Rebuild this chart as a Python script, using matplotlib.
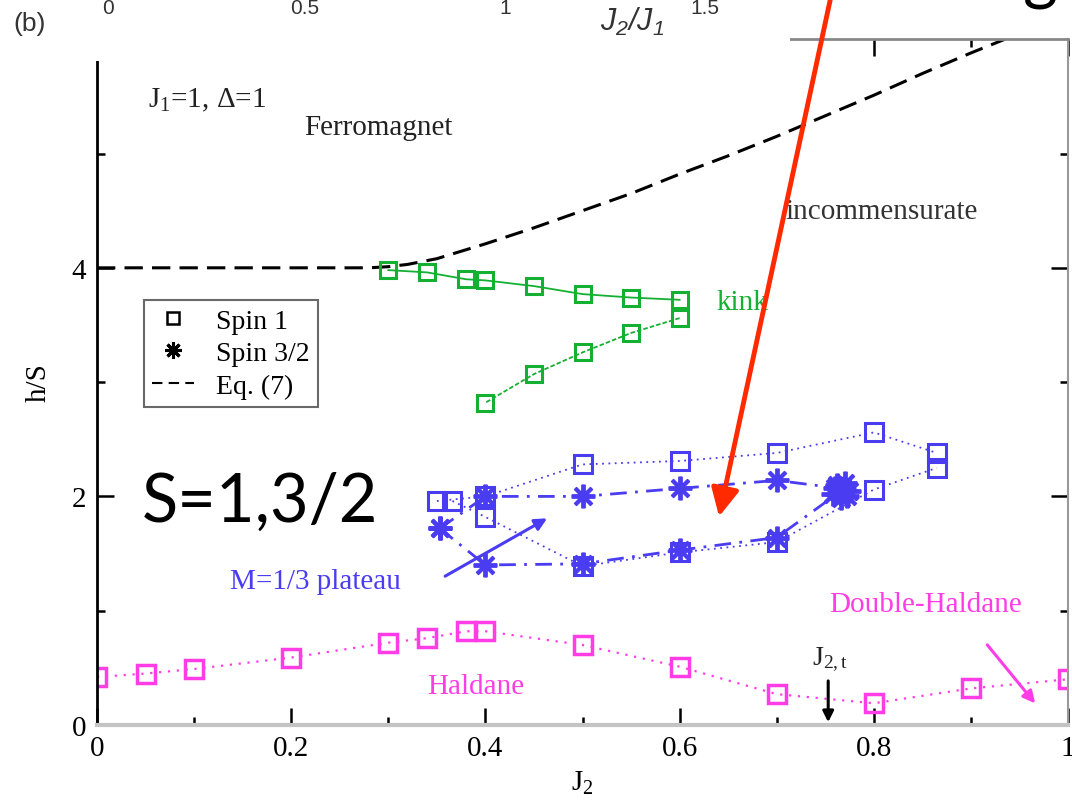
import matplotlib
matplotlib.use('Agg')
import matplotlib.pyplot as plt
from matplotlib.lines import Line2D
from matplotlib.patches import Rectangle

# Fonts: serif text like the original figure
plt.rcParams['font.family'] = ['Liberation Serif', 'DejaVu Serif']
plt.rcParams['mathtext.fontset'] = 'custom'
plt.rcParams['mathtext.rm'] = 'Liberation Serif'
plt.rcParams['mathtext.it'] = 'Liberation Serif:italic'
plt.rcParams['mathtext.sf'] = 'Liberation Sans:italic'

# Eq. (7) boundary of the ferromagnet
eqX = [0.0, 0.26, 0.28, 0.3, 0.32, 0.35, 0.4, 0.45, 0.5, 0.55, 0.6, 0.65, 0.7, 0.75, 0.8, 0.85, 0.9, 0.935]
eqY = [4.0, 4.0, 4.0, 4.01, 4.03, 4.08, 4.21, 4.35, 4.5, 4.65, 4.82, 4.98, 5.15, 5.33, 5.51, 5.7, 5.88, 6.0]

# kink (green, spin 1)
kinkUpX = [0.3, 0.34, 0.38, 0.4, 0.45, 0.5, 0.55, 0.6]
kinkUpY = [3.98, 3.96, 3.90, 3.89, 3.84, 3.77, 3.74, 3.72]
kinkLowX = [0.6, 0.55, 0.5, 0.45, 0.4]
kinkLowY = [3.56, 3.43, 3.26, 3.07, 2.82]

# M=1/3 plateau, spin 1 (blue squares)
plat1UpX = [0.35, 0.4, 0.5, 0.6, 0.7, 0.8, 0.865]
plat1UpY = [1.96, 2.0, 2.28, 2.31, 2.38, 2.56, 2.38]
plat1LowX = [0.366, 0.4, 0.5, 0.6, 0.7, 0.8, 0.865]
plat1LowY = [1.96, 1.82, 1.39, 1.51, 1.60, 2.06, 2.25]

# M=1/3 plateau, spin 3/2 (blue stars)
plat32UpX = [0.353, 0.4, 0.5, 0.6, 0.7, 0.765]
plat32UpY = [1.72, 2.0, 2.0, 2.07, 2.14, 2.07]
plat32LowX = [0.353, 0.4, 0.5, 0.6, 0.7, 0.765]
plat32LowY = [1.72, 1.40, 1.41, 1.53, 1.64, 2.04]
clusterX = [0.758, 0.762, 0.766, 0.770, 0.774, 0.768, 0.772, 0.760]
clusterY = [2.02, 2.10, 1.99, 2.12, 2.05, 2.06, 2.00, 2.07]

# Haldane gap (magenta, spin 1)
haldX = [0.0, 0.05, 0.1, 0.2, 0.3, 0.34, 0.38, 0.4, 0.5, 0.6, 0.7, 0.8, 0.9, 1.0]
haldY = [0.42, 0.45, 0.49, 0.59, 0.72, 0.76, 0.82, 0.82, 0.70, 0.51, 0.27, 0.19, 0.32, 0.40]

xTicks = [0, 0.2, 0.4, 0.6, 0.8, 1.0]
xTickLabels = ['0', '0.2', '0.4', '0.6', '0.8', '1']
yTicks = [0, 2, 4]
yTickLabels = ['0', '2', '4']

green = '#14b032'
blue = '#4a3cf0'
magenta = '#ff3ce6'
asterisk = (8, 2, 0)

fig = plt.figure(figsize=(10.72, 8.03), dpi=100)
ax = fig.add_axes([0.0905, 0.0959, 0.9058, 0.854])

# Eq. (7)
ax.plot(eqX, eqY, color='black', lw=2.2, ls=(0, (6, 3)), zorder=2)

# kink
ax.plot(kinkUpX, kinkUpY, color=green, lw=1.3, marker='s', ms=12, mfc='none', mew=2.2)
ax.plot(kinkLowX, kinkLowY, color=green, lw=1.3, ls=(0, (2.5, 1.2)), marker='s', ms=12,
        mfc='none', mew=2.2)

# plateau spin 1
for xs, ys in [(plat1UpX, plat1UpY), (plat1LowX, plat1LowY)]:
    ax.plot(xs, ys, color=blue, lw=1.3, ls=(0, (1, 2.5)), marker='s', ms=13, mfc='none', mew=2.2)

# plateau spin 3/2
for xs, ys in [(plat32UpX, plat32UpY), (plat32LowX, plat32LowY)]:
    ax.plot(xs, ys, color=blue, lw=2.0, ls=(0, (6, 3, 1, 3)), marker=asterisk, ms=17, mew=2.8)
ax.plot(clusterX, clusterY, color=blue, ls='none', marker=asterisk, ms=17, mew=2.8)

# Haldane
ax.plot(haldX, haldY, color=magenta, lw=1.6, ls=(0, (1, 3)), marker='s', ms=13, mfc='none', mew=2.5)

# labels inside the plot
ax.text(0.052, 5.47, r'$\mathrm{J}_1$=1, Δ=1', fontsize=21, color='#222222', ha='left', va='center')
ax.text(0.29, 5.23, 'Ferromagnet', fontsize=21, color='#222222', ha='center', va='center')
ax.text(0.808, 4.5, 'incommensurate', fontsize=21, color='#333333', ha='center', va='center')
ax.text(0.638, 3.7, 'kink', fontsize=21, color=green, ha='left', va='center')
ax.text(0.225, 1.26, 'M=1/3 plateau', fontsize=21, color=blue, ha='center', va='center')
ax.text(0.39, 0.34, 'Haldane', fontsize=21, color=magenta, ha='center', va='center')
ax.text(0.853, 1.06, 'Double-Haldane', fontsize=21, color=magenta, ha='center', va='center')
ax.text(0.755, 0.58, r'$\mathrm{J}_{\mathrm{2,t}}$', fontsize=20, color='#222222', ha='center',
        va='center')

ax.annotate('', xy=(0.466, 1.82), xytext=(0.356, 1.29),
            arrowprops=dict(arrowstyle='-|>', color=blue, lw=2.2, mutation_scale=18))
ax.annotate('', xy=(0.968, 0.17), xytext=(0.915, 0.72),
            arrowprops=dict(arrowstyle='-|>', color=magenta, lw=2.2, mutation_scale=18))
ax.annotate('', xy=(0.753, 0.0), xytext=(0.753, 0.41),
            arrowprops=dict(arrowstyle='-|>', color='black', lw=2.2, mutation_scale=16))

# slide annotations
ax.text(0.168, 1.95, 'S=1,3/2', fontfamily='Lato', fontsize=48, color='black',
        ha='center', va='center')
ax.annotate('', xy=(0.64, 1.80), xytext=(0.757, 6.42), annotation_clip=False,
            arrowprops=dict(arrowstyle='-|>', color='#ff2a00', lw=3.5, mutation_scale=42),
            zorder=10)

# axes
ax.set_xlim(0, 1)
ax.set_ylim(0, 6)
ax.set_xticks(xTicks, xTickLabels)
ax.set_xticks([0.1, 0.3, 0.5, 0.7, 0.9], minor=True)
ax.set_yticks(yTicks, yTickLabels)
ax.set_yticks([1, 3, 5], minor=True)
ax.tick_params(which='both', direction='in', top=True, right=True, labelsize=21, width=1.8)
ax.tick_params(which='major', length=12)
ax.tick_params(which='minor', length=6)
ax.tick_params(axis='x', pad=7)
ax.tick_params(axis='y', pad=8)
for t in ax.xaxis.get_major_ticks() + ax.xaxis.get_minor_ticks():
    t.tick2line.set_color('#888888')
for t in ax.yaxis.get_major_ticks() + ax.yaxis.get_minor_ticks():
    t.tick2line.set_color('#888888')

ax.spines['left'].set_linewidth(2)
ax.spines['left'].set_color('black')
ax.spines['bottom'].set_linewidth(3)
ax.spines['bottom'].set_color('#c4c4c4')
ax.spines['top'].set_color('#888888')
ax.spines['top'].set_linewidth(2)
ax.spines['right'].set_color('#999999')
ax.spines['right'].set_linewidth(1.5)

ax.set_xlabel(r'$\mathrm{J}_2$', fontsize=21, labelpad=6)
ax.set_ylabel('h/S', fontsize=21, labelpad=14)

handles = [
    Line2D([], [], ls='none', marker='s', ms=9, mfc='none', mec='black', mew=1.8),
    Line2D([], [], ls='none', marker=asterisk, ms=12, mec='black', mew=2.2),
    Line2D([], [], color='black', lw=1.5, ls=(0, (5, 3))),
]
leg = ax.legend(handles, ['Spin 1', 'Spin 3/2', 'Eq. (7)'], loc='upper left',
                bbox_to_anchor=(0.034, 0.64), fontsize=20, frameon=True, fancybox=False,
                edgecolor='#444444', handlelength=1.5, handletextpad=0.8, labelspacing=0.25,
                borderpad=0.3)
leg.get_frame().set_linewidth(1.5)

# top strip: covered by the slide, with the axis labels of the panel above
fig.add_artist(Rectangle((0, 1 - 62 / 803), 790 / 1072, 62 / 803, transform=fig.transFigure,
                         facecolor='white', edgecolor='none', zorder=5))
topFont = ['Liberation Sans', 'DejaVu Sans']
fig.text(30 / 1072, 1 - 24 / 803, '(b)', family=topFont, fontsize=19, color='#333333',
         ha='center', va='center', zorder=6)
for px, lab in [(108, '0'), (305, '0.5'), (505, '1'), (705, '1.5')]:
    fig.text(px / 1072, 1 - 9 / 803, lab, family=topFont, fontsize=15, color='#333333',
             ha='center', va='center', zorder=6)
fig.text(632 / 1072, 1 - 22 / 803, r'$\mathsf{J_2/J_1}$', fontsize=22, color='#333333',
         ha='center', va='center', zorder=6)
fig.text(1040 / 1072, 1 + 2 / 803, 'g', family=['Lato'], fontsize=48, color='black',
         ha='center', va='baseline', zorder=6)

fig.savefig('out.png', dpi=100)
